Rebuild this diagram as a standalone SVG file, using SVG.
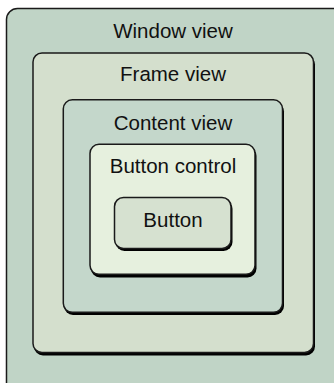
<svg xmlns="http://www.w3.org/2000/svg" width="334" height="383" viewBox="0 0 334 383">
<style>
.sh{fill:#000}
.bx{stroke:#1a1a1a;stroke-width:1.5}
.t{font-family:"Liberation Sans",Arial,sans-serif;font-size:20.5px;fill:#111;text-anchor:middle}
</style>
<rect width="334" height="383" fill="#ffffff"/>
<g id="window">
<rect class="sh" x="7.5" y="10.5" width="340" height="390" rx="11"/>
<rect class="bx" x="6.5" y="8.5" width="340" height="390" rx="11" fill="#c0d4c6"/>
<text class="t" x="173" y="38">Window view</text>
</g>
<g id="frame">
<rect class="sh" x="34" y="55.5" width="281" height="300" rx="9"/>
<rect class="bx" x="33" y="53" width="280.5" height="299.5" rx="9" fill="#d4dfcd"/>
<text class="t" x="173" y="81">Frame view</text>
</g>
<g id="content">
<rect class="sh" x="64" y="102.5" width="220" height="212.5" rx="9"/>
<rect class="bx" x="63.3" y="99.8" width="219.2" height="212.5" rx="9" fill="#c4d7cb"/>
<text class="t" x="173" y="130">Content view</text>
</g>
<g id="buttoncontrol">
<rect class="sh" x="91" y="147" width="165.5" height="130.5" rx="9"/>
<rect class="bx" x="90" y="144.3" width="165" height="130" rx="9" fill="#e6f0de"/>
<text class="t" x="173" y="173">Button control</text>
</g>
<g id="button">
<rect class="sh" x="115.5" y="200" width="117" height="51" rx="9"/>
<rect class="bx" x="114.5" y="197.5" width="116.5" height="51" rx="9" fill="#d6e1d0"/>
<text class="t" x="173" y="227">Button</text>
</g>
<g id="connectors"/>
</svg>
